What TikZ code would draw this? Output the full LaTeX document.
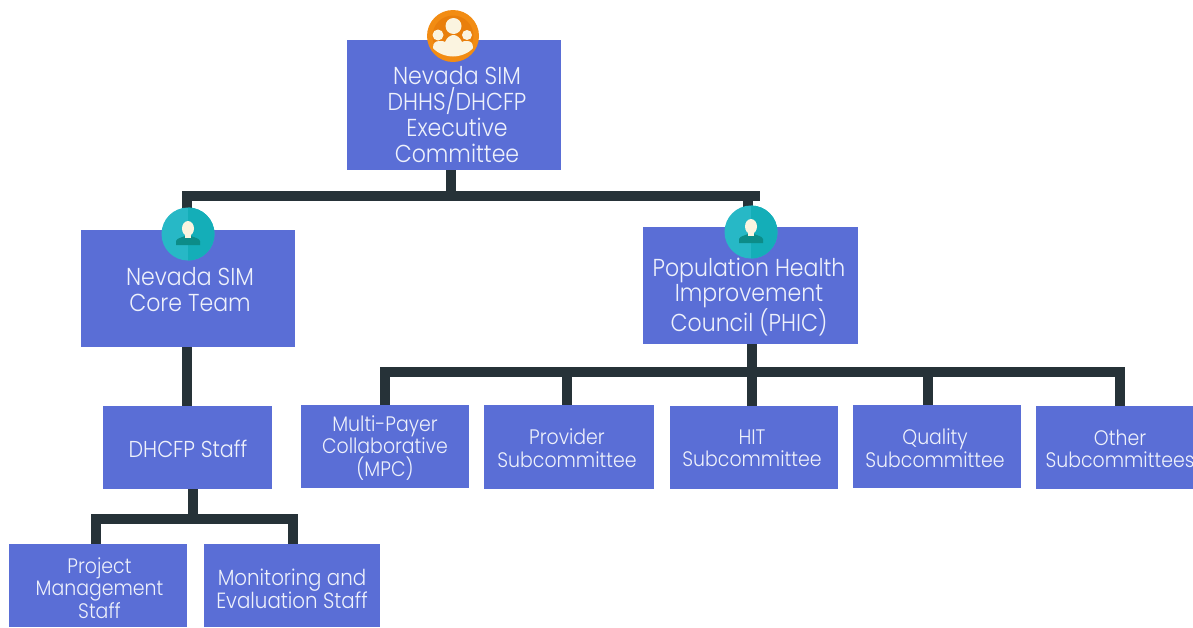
\documentclass[tikz,border=0pt]{standalone}
\usepackage{fontspec}
\setmainfont[FakeStretch=0.9]{Poppins Light}
\definecolor{boxblue}{HTML}{5A6ED6}
\definecolor{linedark}{HTML}{263238}
\definecolor{txt}{HTML}{EEF1FB}
\definecolor{orangering}{HTML}{F28C13}
\definecolor{orangein}{HTML}{E97F0C}
\definecolor{cream}{HTML}{FBF4E0}
\definecolor{tealA}{HTML}{27B8C6}
\definecolor{tealB}{HTML}{14AEB8}
\definecolor{tealD}{HTML}{0C8C88}
\tikzset{
 boxn/.style={fill=boxblue,draw=none,inner sep=0,outer sep=0,anchor=north west},
 conn/.style={draw=linedark,line width=10pt},
 biglab/.style={text=txt,align=center,inner sep=0,font=\fontsize{24.5}{26}\selectfont},
 midlab/.style={text=txt,align=center,inner sep=0,font=\fontsize{21}{22.5}\selectfont},
 tealicon/.style={circle,fill=tealA,inner sep=0,minimum size=53pt},
 person/.pic={
  \fill[tealB] (0,-26.5) arc[start angle=-90,end angle=90,radius=26.5] -- cycle;
  \fill[tealD] (-12,11) -- (-12,7) .. controls (-11,4) and (-6,3.5) .. (-3,2) -- (3,2) .. controls (6,3.5) and (11,4) .. (12,7) -- (12,11) -- cycle;
  \fill[cream] (0,-5.5) ellipse (6 and 7.5);
  \fill[cream] (-3,0) rectangle (3,3.5);
 }
}
\newcommand{\mkbox}[5]{\node[boxn,minimum width=#3pt,minimum height=#4pt] (#5) at (#1,#2) {};}
\begin{document}
\begin{tikzpicture}[x=1pt,y=-1pt]
\useasboundingbox (0,0) rectangle (1193,627);
% boxes
\mkbox{347}{40}{214}{130}{top}
\mkbox{81}{230}{214}{117}{core}
\mkbox{643}{227}{215}{117}{phic}
\mkbox{103}{406}{169}{83}{dhcfp}
\mkbox{9}{544}{178}{83}{pm}
\mkbox{204}{544}{176}{83}{me}
\mkbox{301}{405}{168}{83}{mpc}
\mkbox{484}{405}{170}{84}{prov}
\mkbox{670}{406}{168}{83}{hit}
\mkbox{853}{405}{168}{83}{qual}
\mkbox{1036}{406}{157}{83}{other}
% junctions
\coordinate (j1) at (451,196);
\coordinate (j1l) at (187,196);
\coordinate (j1r) at (748,196);
\coordinate (j1e) at (760,196);
\coordinate (j2) at (752,372);
\coordinate (j2a) at (385,372);
\coordinate (j2b) at (567,372);
\coordinate (j2d) at (928,372);
\coordinate (j2e) at (1120,372);
\coordinate (j3) at (193,519);
\coordinate (j3l) at (96,519);
\coordinate (j3r) at (293,519);
% connectors
\draw[conn] (top.south -| j1) -- (j1);
\draw[conn] (core.north -| j1l) -- (j1l) -- (j1e);
\draw[conn] (j1r) -- (phic.north -| j1r);
\draw[conn] (core.south -| j1l) -- (dhcfp.north -| j1l);
\draw[conn] (phic.south -| j2) -- (j2);
\draw[conn] (mpc.north -| j2a) -- (j2a) -- (j2e) -- (other.north -| j2e);
\draw[conn] (j2b) -- (prov.north -| j2b);
\draw[conn] (j2) -- (hit.north -| j2);
\draw[conn] (j2d) -- (qual.north -| j2d);
\draw[conn] (dhcfp.south -| j3) -- (j3);
\draw[conn] (pm.north -| j3l) -- (j3l) -- (j3r) -- (me.north -| j3r);
% labels
\node[biglab] (topl) at (457,114.5) {Nevada SIM\\DHHS/DHCFP\\Executive\\Committee};
\node[biglab] (corel) at (190,290) {Nevada SIM\\Core Team};
\node[biglab,font=\fontsize{24.5}{25}\selectfont] (phicl) at (749,297) {Population Health\\Improvement\\Council (PHIC)};
\node[midlab,font=\fontsize{23}{24}\selectfont] (dhcfpl) at (188,449) {DHCFP Staff};
\node[midlab] (pml) at (99.5,588) {Project\\Management\\Staff};
\node[midlab,font=\fontsize{22}{22.5}\selectfont] (mel) at (292,589) {Monitoring and\\Evaluation Staff};
\node[midlab] (mpcl) at (385,448) {Multi-Payer\\Collaborative\\(MPC)};
\node[midlab] (provl) at (567,448) {Provider\\Subcommittee};
\node[midlab] (hitl) at (752,448) {HIT\\Subcommittee};
\node[midlab] (quall) at (935,448) {Quality\\Subcommittee};
\node[midlab] (otherl) at (1120,449) {Other\\Subcommittees};
% icons
\node[circle,fill=orangering,inner sep=0,minimum size=52pt] (ico1) at (453,36) {};
\begin{scope}[shift={(453,36)}]
 \fill[orangein] (0,0) circle (20.5);
 \fill[cream] (-15,-1) circle (5.5);
 \fill[cream] (14,-1) circle (5);
 \fill[cream] (0.5,-10) circle (8);
 \fill[cream] (-20,12) .. controls (-20,7) and (-18,5) .. (-13,5) .. controls (-11,5) and (-9,5) .. (-8,6) .. controls (-6,1) and (-2,-1) .. (0.5,-1) .. controls (3,-1) and (7,1) .. (9,6) .. controls (10,5) and (12,5) .. (14,5) .. controls (18,5) and (20,7) .. (20,12) .. controls (15,18) and (6,20.5) .. (0,20.5) .. controls (-6,20.5) and (-15,18) .. (-20,12) -- cycle;
\end{scope}
\node[tealicon] (ico2) at (188,234) {};
\pic at (188,234) {person};
\node[tealicon] (ico3) at (751,232) {};
\pic at (751,232) {person};
\end{tikzpicture}
\end{document}
